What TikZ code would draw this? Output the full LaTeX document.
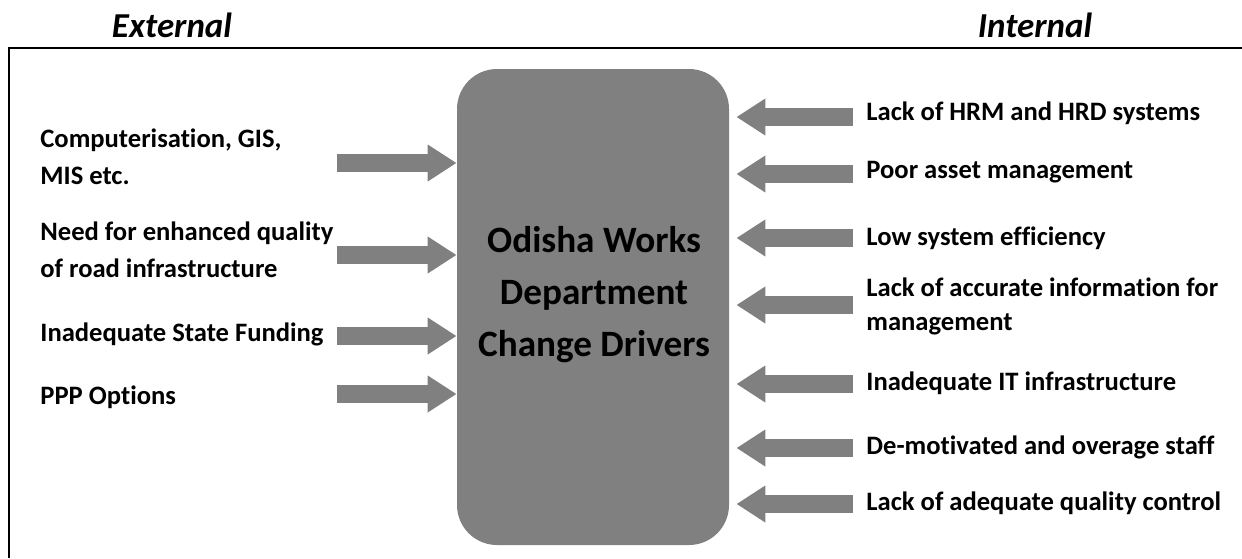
\documentclass[tikz,border=0pt]{standalone}
\usepackage{fontspec}
\setmainfont{Carlito}[Ligatures = NoCommon]
\usetikzlibrary{arrows.meta}

\definecolor{boxgray}{HTML}{808080}

\tikzset{
	driver/.style = {font = \bfseries\fontsize{13.3}{17}\selectfont, align = left, inner sep = 0pt},
	wide/.style = {font = \bfseries\fontsize{13.3}{18.5}\selectfont},
	heading/.style = {font = \bfseries\itshape\fontsize{17.5}{21}\selectfont, inner sep = 0pt},
	fat/.style = {draw = boxgray, line width = 9pt, ->}
}

\begin{document}
\begin{tikzpicture}[x = 0.5pt, y = -0.5pt, > = {Triangle[width = 17.5pt, length = 14.5pt]}]

	% Definition

	\def\TL{40}		% Left text column
	\def\TR{866}	% Right text column

	\useasboundingbox (0, 0) rectangle (1242, 558);

	% Frame

	\draw [line width = 1pt] (9, 558) -- (9, 48) -- (1242, 48);

	% Headings

	\node [heading] (ext) at (172, 25) {External};
	\node [heading] (int) at (1035, 25) {Internal};

	% Change drivers box

	\node [fill = boxgray, rounded corners = 20pt, minimum width = 136pt, minimum height = 238pt, inner sep = 0pt] (drv) at (593, 307) {};
	\node [font = \bfseries\fontsize{18.6}{26}\selectfont, align = center, inner sep = 0pt] (title) at (594, 295)
		{Odisha Works\\Department\\Change Drivers};

	% External drivers

	\node [driver, wide, anchor = west] (e1) at (\TL, 157) {Computerisation, GIS,\\MIS etc.};
	\node [driver, wide, anchor = west] (e2) at (\TL, 250) {Need for enhanced quality\\of road infrastructure};
	\node [driver, anchor = west] (e3) at (\TL, 334) {Inadequate State Funding};
	\node [driver, anchor = west] (e4) at (\TL, 397) {PPP Options};

	% Internal drivers

	\node [driver, anchor = west] (i1) at (\TR, 113) {Lack of HRM and HRD systems};
	\node [driver, anchor = west] (i2) at (\TR, 172) {Poor asset management};
	\node [driver, anchor = west] (i3) at (\TR, 238) {Low system efficiency};
	\node [driver, anchor = west] (i4) at (\TR, 306) {Lack of accurate information for\\management};
	\node [driver, anchor = west] (i5) at (\TR, 383) {Inadequate IT infrastructure};
	\node [driver, anchor = west] (i6) at (\TR, 447) {De-motivated and overage staff};
	\node [driver, anchor = west] (i7) at (\TR, 503) {Lack of adequate quality control};

	% Arrows into the box

	\coordinate (rtip) at ([xshift = 3.5pt] drv.east);

	\foreach \n / \y in {1/163, 2/255, 3/336, 4/394}
	{
		\coordinate (ea\n) at (337, \y);
		\draw [fat] (ea\n) -- (ea\n -| drv.west);
	}

	\foreach \n / \y in {1/117, 2/174, 3/238, 4/305, 5/384, 6/448, 7/504}
	{
		\coordinate (ia\n) at (853, \y);
		\draw [fat] (ia\n) -- (ia\n -| rtip);
	}

\end{tikzpicture}
\end{document}
